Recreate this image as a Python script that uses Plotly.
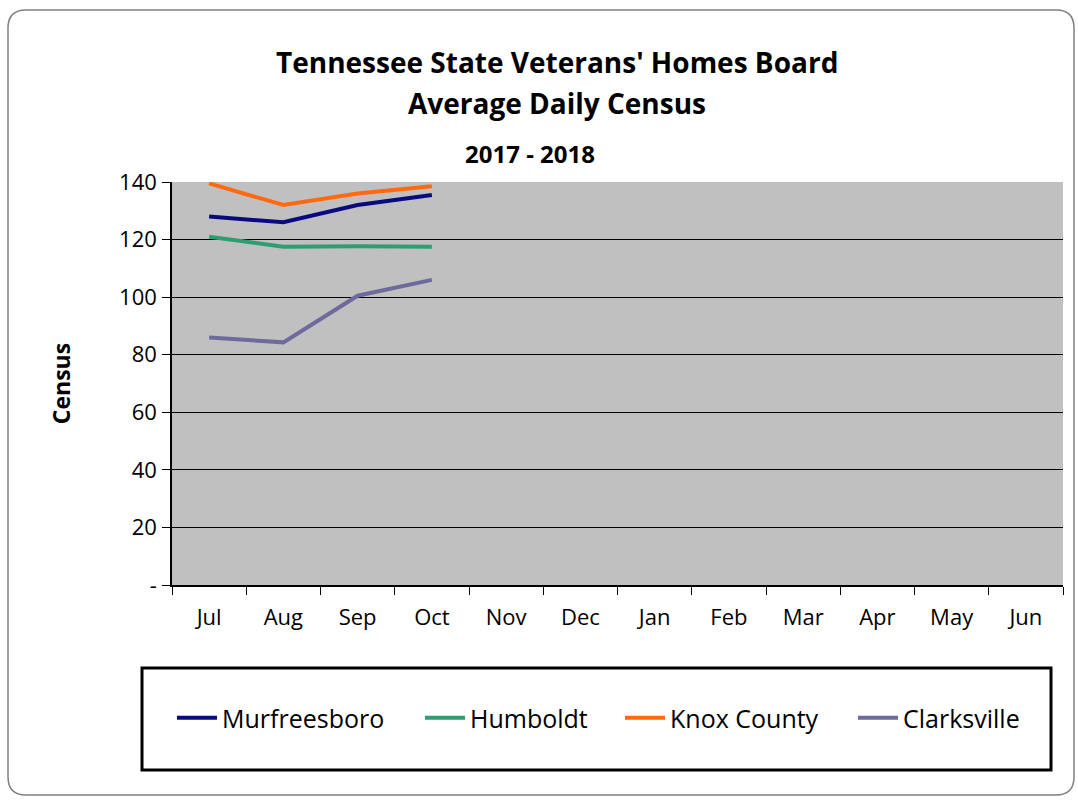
import plotly.graph_objects as go

months = ["Jul", "Aug", "Sep", "Oct", "Nov", "Dec", "Jan", "Feb", "Mar", "Apr", "May", "Jun"]
murfreesboro = [128, 126, 132, 135.5, None, None, None, None, None, None, None, None]
humboldt = [121, 117.5, 117.7, 117.5, None, None, None, None, None, None, None, None]
knox_county = [139.5, 132, 136, 138.5, None, None, None, None, None, None, None, None]
clarksville = [86, 84.3, 100.5, 106, None, None, None, None, None, None, None, None]
y_ticks = [0, 20, 40, 60, 80, 100, 120, 140]
y_tick_text = ["-", "20", "40", "60", "80", "100", "120", "140"]

series = [
    ("Murfreesboro", murfreesboro, "#0A0A80"),
    ("Humboldt", humboldt, "#2E9E72"),
    ("Knox County", knox_county, "#FF6A10"),
    ("Clarksville", clarksville, "#6E6A9E"),
]

W, H = 1078, 801
L, R, T, B = 172, 1063, 182, 585

def px(x):
    return (x - L) / (R - L)

def py(y):
    return (B - y) / (B - T)

font = "Open Sans"
legend_names = ["legend", "legend2", "legend3", "legend4"]
legend_text_x = [222, 470, 670, 903]

fig = go.Figure()
for (name, vals, col), lg in zip(series, legend_names):
    fig.add_trace(go.Scatter(x=months, y=vals, name=name, mode="lines",
                             line=dict(color=col, width=4), connectgaps=False,
                             legend=lg))

# outer rounded border
x0, y0, x1, y1, r = 8, 10, 1074, 795, 18
path = (f"M {px(x0+r)},{py(y0)} L {px(x1-r)},{py(y0)} Q {px(x1)},{py(y0)} {px(x1)},{py(y0+r)} "
        f"L {px(x1)},{py(y1-r)} Q {px(x1)},{py(y1)} {px(x1-r)},{py(y1)} "
        f"L {px(x0+r)},{py(y1)} Q {px(x0)},{py(y1)} {px(x0)},{py(y1-r)} "
        f"L {px(x0)},{py(y0+r)} Q {px(x0)},{py(y0)} {px(x0+r)},{py(y0)} Z")
shapes = [
    dict(type="path", xref="paper", yref="paper", path=path,
         line=dict(color="#808080", width=1.5), layer="below"),
    dict(type="rect", xref="paper", yref="paper", x0=px(142), x1=px(1051),
         y0=py(668), y1=py(770), line=dict(color="black", width=3)),
]

annotations = [
    dict(text="<b>Tennessee State Veterans' Homes Board</b>", x=px(557), y=py(62),
         yanchor="middle", xanchor="center",
         xref="paper", yref="paper", showarrow=False, font=dict(size=28, family=font, color="black")),
    dict(text="<b>Average Daily Census</b>", x=px(557), y=py(103),
         yanchor="middle", xanchor="center",
         xref="paper", yref="paper", showarrow=False, font=dict(size=28, family=font, color="black")),
    dict(text="<b>2017 - 2018</b>", x=px(530), y=py(153),
         yanchor="middle", xanchor="center",
         xref="paper", yref="paper", showarrow=False, font=dict(size=24, family=font, color="black")),
]

legends = {}
for lg, tx in zip(legend_names, legend_text_x):
    legends[lg] = dict(orientation="h", x=px(tx - 50), y=py(718), xanchor="left", yanchor="middle",
                       font=dict(size=25, family=font, color="black"), bgcolor="rgba(0,0,0,0)",
                       itemwidth=40)

fig.update_layout(
    width=W, height=H,
    margin=dict(l=L, r=W - R, t=T, b=H - B),
    paper_bgcolor="white",
    plot_bgcolor="#C0C0C0",
    font=dict(family=font, color="black", size=20),
    shapes=shapes,
    annotations=annotations,
    showlegend=True,
    **legends,
    xaxis=dict(type="category", categoryorder="array", categoryarray=months,
               showgrid=False, showline=True, linecolor="black", linewidth=1.5,
               ticks="outside", tickson="boundaries", ticklen=8, tickcolor="black",
               tickfont=dict(size=22), range=[-0.5, 11.5], ticklabelstandoff=12),
    yaxis=dict(range=[0, 140], tickvals=y_ticks, ticktext=y_tick_text,
               showgrid=True, gridcolor="black", gridwidth=1,
               showline=True, linecolor="black", linewidth=1.5,
               ticks="outside", ticklen=8, tickcolor="black",
               tickfont=dict(size=22), zeroline=False, ticklabelstandoff=1,
               title=dict(text="<b>Census</b>", font=dict(size=23), standoff=42)),
)

fig.write_html("out.html")
